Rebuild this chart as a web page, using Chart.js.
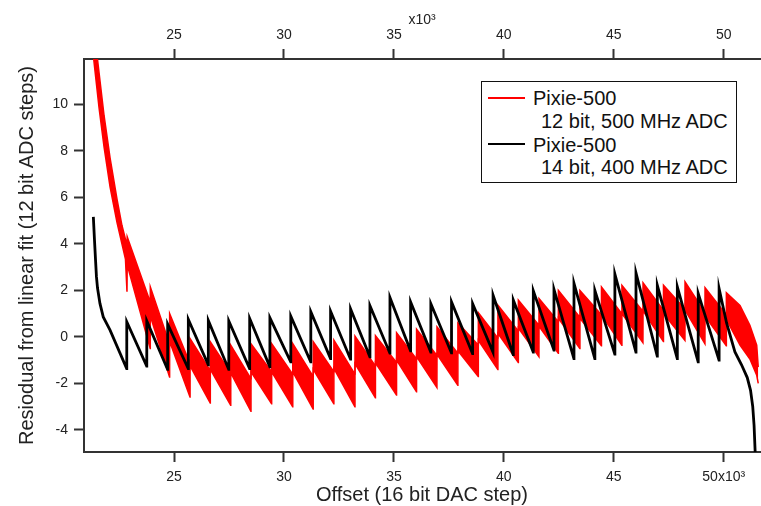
<!DOCTYPE html>
<html><head><meta charset="utf-8">
<script src="https://cdn.jsdelivr.net/npm/chart.js@4.4.0/dist/chart.umd.min.js"></script>
<style>
html,body{margin:0;padding:0;background:#fff;}
#wrap{position:relative;width:761px;height:506px;overflow:hidden;font-family:"Liberation Sans",Arial,sans-serif;}
#c{position:absolute;left:0;top:0;}
.box{position:absolute;left:481px;top:81px;width:256px;height:102px;box-sizing:border-box;border:1.5px solid #111;background:#fff;}
.sw{position:absolute;left:488px;width:37px;height:2px;}
.lg{position:absolute;font-size:20px;line-height:24px;color:#111;white-space:nowrap;}
</style></head>
<body>
<div id="wrap">
<canvas id="c" width="761" height="506"></canvas>
<div class="box"></div>
<div class="sw" style="top:97px;background:#f00;"></div>
<div class="lg" style="left:533px;top:86px;">Pixie-500</div>
<div class="lg" style="left:541px;top:109px;">12 bit, 500 MHz ADC</div>
<div class="sw" style="top:143px;background:#000;"></div>
<div class="lg" style="left:533px;top:133px;">Pixie-500</div>
<div class="lg" style="left:541px;top:155px;">14 bit, 400 MHz ADC</div>
</div>
<script>
// ---- axis tick values (x in units of 10^3 DAC steps) ----
const xTickValues = [25, 30, 35, 40, 45, 50];
const yTickValues = [-4, -2, 0, 2, 4, 6, 8, 10];

// ---- 14 bit, 400 MHz ADC (black) ----
const blackHeadX = [21.33, 21.38, 21.43, 21.47, 21.52, 21.63, 21.78, 22.09];
const blackHeadY = [5.16, 4.2, 3.3, 2.6, 2.1, 1.44, 0.86, 0.29];
const blackJumpX = [22.85, 23.76, 24.71, 25.65, 26.56, 27.49, 28.44, 29.36, 30.31, 31.22, 32.12, 33.03, 33.91, 34.82, 35.76, 36.68, 37.62, 38.58, 39.51, 40.43, 41.34, 42.28, 43.19, 44.14, 45.05, 46.01, 46.98, 47.89, 48.84, 49.79];
const blackTrough = [-1.36, -1.26, -1.4, -1.36, -1.2, -1.4, -1.36, -1.29, -1.07, -1.07, -0.93, -0.96, -0.86, -0.7, -0.6, -0.65, -0.69, -0.72, -0.65, -0.76, -0.65, -0.57, -0.93, -0.93, -0.74, -0.65, -0.83, -0.93, -1.07, -1.0];
const blackPeak = [0.65, 0.69, 0.55, 0.75, 0.7, 0.69, 0.79, 0.82, 0.89, 1.08, 1.1, 1.2, 1.34, 1.69, 1.5, 1.43, 1.5, 1.43, 1.79, 1.58, 1.98, 2.04, 2.3, 2.0, 2.7, 2.75, 2.22, 2.15, 1.87, 2.08];
const blackTailX = [50.13, 50.51, 50.81, 51.07, 51.22, 51.32, 51.38, 51.43];
const blackTailY = [0.6, -0.65, -1.2, -1.75, -2.3, -3.0, -3.8, -4.95];

// ---- 12 bit, 500 MHz ADC (red band: upper / lower envelope) ----
const redHeadX  = [21.34, 21.59, 21.82, 22.09, 22.41, 22.63, 22.79, 22.86];
const redHeadHi = [13.4, 11.35, 9.5, 7.7, 5.9, 4.8, 4.2, 3.95];
const redHeadLo = [12.0, 9.85, 8.15, 6.45, 4.9, 4.0, 3.35, 1.94];
const redJumpX = [22.87, 23.92, 24.80, 25.73, 26.65, 27.58, 28.50, 29.44, 30.40, 31.33, 32.27, 33.23, 34.16, 35.12, 36.03, 36.96, 37.91, 38.84, 39.73, 40.66, 41.60, 42.48, 43.46, 44.44, 45.37, 46.33, 47.26, 48.24, 49.15, 50.12];
const redPeak = [4.3, 2.15, 1.0, -0.07, -0.21, -0.36, -0.3, -0.29, -0.29, -0.21, -0.14, 0.03, 0.05, 0.18, 0.33, 0.43, 0.6, 1.04, 1.36, 1.58, 1.65, 2.0, 2.0, 2.15, 2.22, 2.33, 2.22, 2.37, 2.12, 1.9];
const redBotStart = [3.1, 0.9, -0.2, -1.25, -1.4, -1.55, -1.5, -1.5, -1.5, -1.4, -1.35, -1.15, -1.12, -1.0, -0.85, -0.75, -0.6, -0.15, 0.15, 0.38, 0.45, 0.8, 0.8, 0.95, 1.0, 1.12, 1.0, 1.15, 0.9];
const redTopEnd = [1.5, -0.3, -1.15, -1.45, -1.55, -1.8, -1.5, -1.6, -1.7, -1.5, -1.6, -1.25, -1.1, -0.95, -0.8, -0.7, -0.35, -0.05, 0.25, 0.5, 0.65, 0.85, 0.95, 1.0, 1.1, 1.15, 1.2, 1.05, 0.95];
const redTrough = [-0.5, -1.72, -2.58, -2.84, -2.94, -3.2, -2.87, -3.0, -3.1, -2.87, -3.0, -2.62, -2.5, -2.36, -2.18, -2.08, -1.7, -1.4, -1.1, -0.85, -0.7, -0.5, -0.38, -0.36, -0.25, -0.2, -0.15, -0.3, -0.38];
const redTailX  = [50.12, 50.74, 51.19, 51.50, 51.57];
const redTailHi = [1.9, 1.35, 0.5, -0.35, -1.3];
const redTailLo = [0.75, -0.35, -0.95, -1.65, -2.0];

const xMin = 20.905, xMax = 51.65, yMin = -4.95, yMax = 11.95;

// ---- build point lists ----
const EPS = 0.004;
const blackPts = [];
blackHeadX.forEach((x, i) => blackPts.push({x, y: blackHeadY[i]}));
blackJumpX.forEach((x, k) => {
  blackPts.push({x: x - EPS, y: blackTrough[k]});
  blackPts.push({x, y: blackPeak[k]});
});
blackTailX.forEach((x, i) => blackPts.push({x, y: blackTailY[i]}));

const redUpper = [], redLower = [];
redHeadX.forEach((x, i) => { redUpper.push({x, y: redHeadHi[i]}); redLower.push({x, y: redHeadLo[i]}); });
for (let k = 0; k < redTrough.length; k++) {
  redUpper.push({x: redJumpX[k], y: redPeak[k]});
  redLower.push({x: redJumpX[k], y: redBotStart[k]});
  const xe = redJumpX[k + 1] - EPS;
  redUpper.push({x: xe, y: redTopEnd[k]});
  redLower.push({x: xe, y: redTrough[k]});
}
redTailX.forEach((x, i) => { redUpper.push({x, y: redTailHi[i]}); redLower.push({x, y: redTailLo[i]}); });

const FONT = '"Liberation Sans", Arial, sans-serif';
Chart.defaults.font.family = FONT;
const AX = '#333';
const TXT = '#222';

function xAxis(pos, title, titlePad, fitH, tickPad, labelFn) {
  return {
    type: 'linear', position: pos, min: xMin, max: xMax,
    afterBuildTicks: s => { s.ticks = xTickValues.map(v => ({value: v})); },
    afterFit: s => { s.height = fitH; },
    ticks: {autoSkip: false, maxRotation: 0, padding: tickPad, color: TXT, font: {size: 14}, callback: labelFn},
    grid: {drawOnChartArea: false, drawTicks: true, tickLength: 10, tickWidth: 2, tickColor: AX},
    border: {display: true, color: AX, width: 2},
    title: {display: true, text: title, color: TXT, font: title.length > 6 ? {size: 20, lineHeight: 1.1} : {size: 14, lineHeight: 1.2}, padding: titlePad}
  };
}

new Chart(document.getElementById('c'), {
  type: 'line',
  data: {datasets: [
    {label: 'Pixie-500 14 bit, 400 MHz ADC', data: blackPts, borderColor: '#000', borderWidth: 2.8, pointRadius: 0, fill: false, tension: 0},
    {label: 'Pixie-500 12 bit, 500 MHz ADC', data: redUpper, borderColor: '#f00', backgroundColor: '#f00', borderWidth: 1.5, pointRadius: 0, fill: '+1', tension: 0},
    {label: 'red lower', data: redLower, borderColor: '#f00', backgroundColor: '#f00', borderWidth: 1.5, pointRadius: 0, fill: false, tension: 0}
  ]},
  options: {
    responsive: false, animation: false, events: [],
    layout: {padding: {left: 0, right: 1, top: 0, bottom: 0}},
    plugins: {legend: {display: false}, tooltip: {enabled: false}},
    scales: {
      x: xAxis('bottom', 'Offset (16 bit DAC step)', {top: 0, bottom: 0}, 54, 7, v => v === 50 ? '50x10\u00B3' : String(v)),
      x2: xAxis('top', 'x10\u00B3', {top: 12, bottom: 0}, 59, 5, v => String(v)),
      y: {
        type: 'linear', position: 'left', min: yMin, max: yMax,
        afterBuildTicks: s => { s.ticks = yTickValues.map(v => ({value: v})); },
        afterFit: s => { s.width = 84; },
        ticks: {autoSkip: false, padding: 6, color: TXT, font: {size: 14}},
        grid: {drawOnChartArea: false, drawTicks: true, tickLength: 10, tickWidth: 2, tickColor: AX},
        border: {display: true, color: AX, width: 2},
        title: {display: true, text: 'Resiodual from linear fit (12 bit ADC steps)', color: TXT, font: {size: 20, lineHeight: 1.2}, padding: {top: 15, bottom: 0}}
      }
    }
  }
});
</script>
</body></html>
